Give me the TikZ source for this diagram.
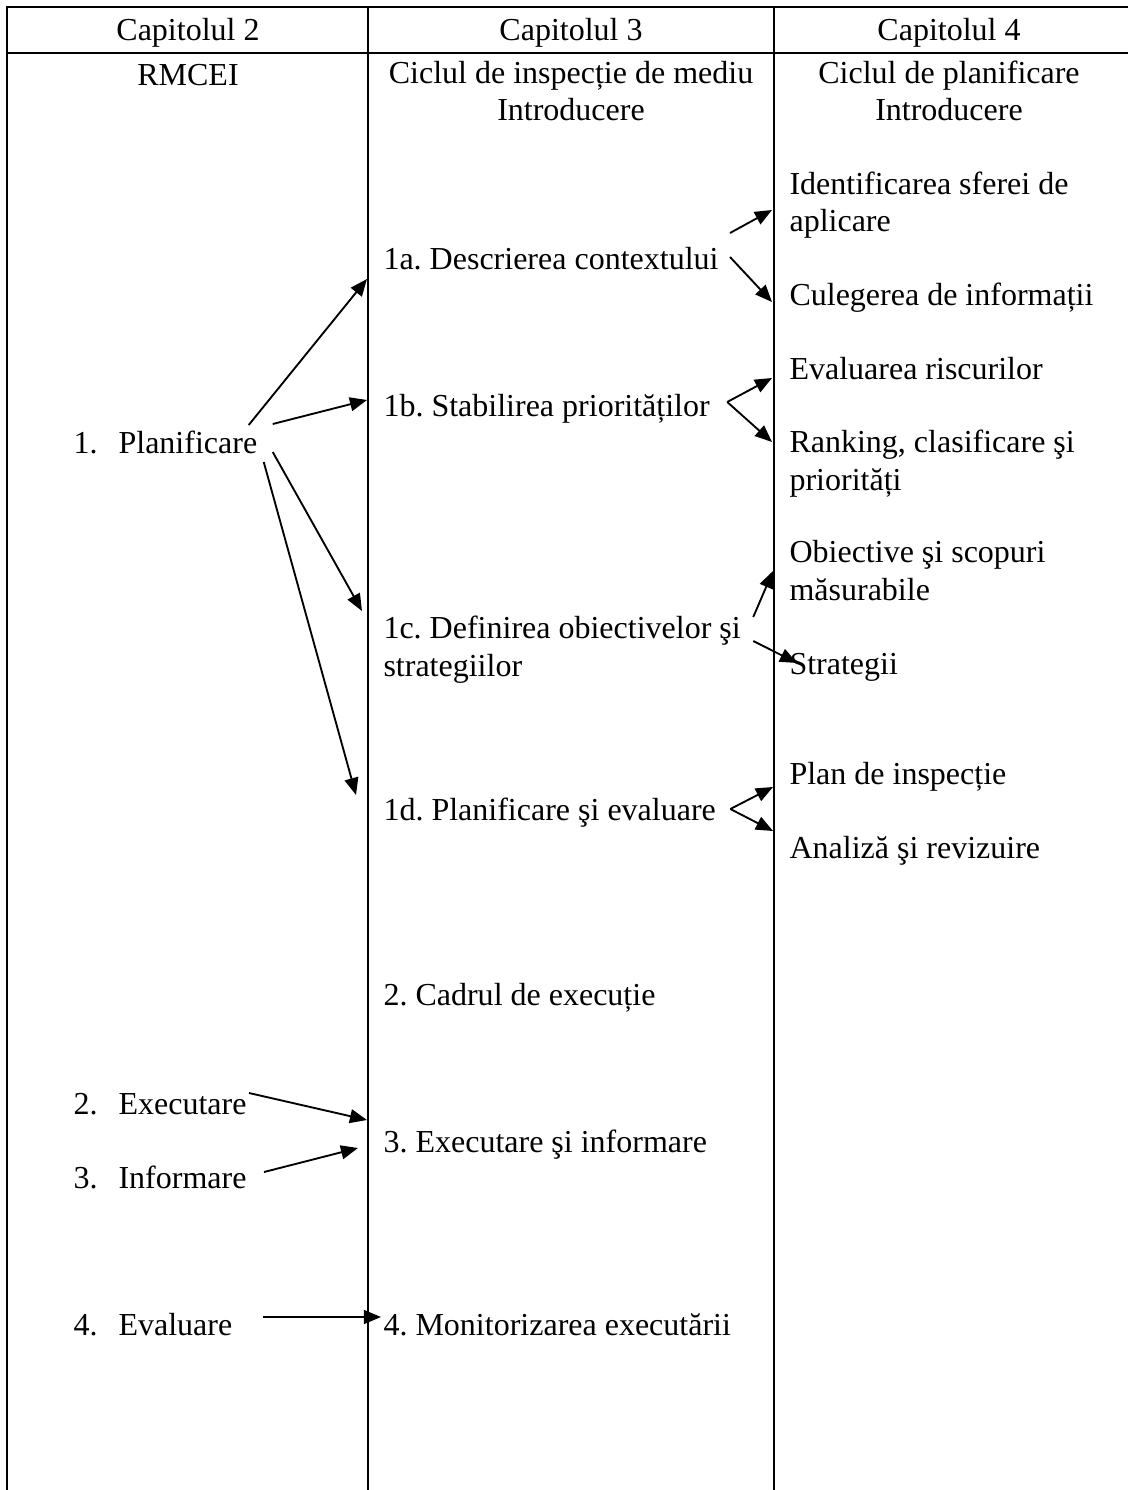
\documentclass[tikz,border=0pt]{standalone}
\usepackage{fontspec}
\setmainfont{Liberation Serif}
\usetikzlibrary{arrows.meta}

\newcommand{\listnr}[1]{\makebox[16.9pt][l]{#1}}
\frenchspacing

\begin{document}
\begin{tikzpicture}[
    x=0.375pt, y=-0.375pt,
    font=\fontsize{12}{13.9}\selectfont,
    rule/.style={line width=0.8pt},
    arrow/.style={line width=0.7pt,-{Triangle[length=6.4pt,width=5.2pt]}},
    head/.style={anchor=base, align=center, inner sep=0pt},
    item/.style={anchor=base west, align=left, inner sep=0pt}
  ]

  \path[use as bounding box] (0,0) rectangle (1128,1490);

  % Table frame
  \draw[rule] (1128,7) -- (7,7) -- (7,1490);
  \draw[rule] (7,53) -- (1128,53);
  \draw[rule] (368,7) -- (368,1490);
  \draw[rule] (774,7) -- (774,1490);

  % Header (multi-line nodes sit on their last line)
  \node[head] (cap2) at (188,41) {Capitolul 2};
  \node[head] (cap3) at (571,41) {Capitolul 3};
  \node[head] (cap4) at (949,41) {Capitolul 4};
  \node[head] (rmcei) at (188,86) {RMCEI};
  \node[head] (ciclu) at (571,121) {Ciclul de inspecție de mediu\\Introducere};
  \node[head] (cplan) at (949,121) {Ciclul de planificare\\Introducere};

  % Capitolul 2
  \node[item] (plan) at (73,453) {\listnr{1.}Planificare};
  \node[item] (exe) at (73,1114) {\listnr{2.}Executare};
  \node[item] (inf) at (73,1188) {\listnr{3.}Informare};
  \node[item] (eva) at (73,1335) {\listnr{4.}Evaluare};

  % Capitolul 3
  \node[item] (ctx) at (383,270) {1a. Descrierea contextului};
  \node[item] (prio) at (383,417) {1b. Stabilirea priorităților};
  \node[item] (obj) at (383,676) {1c. Definirea obiectivelor şi\\strategiilor};
  \node[item] (peval) at (383,820) {1d. Planificare şi evaluare};
  \node[item] (cadru) at (383,1005) {2. Cadrul de execuție};
  \node[item] (exinf) at (383,1152) {3. Executare şi informare};
  \node[item] (monit) at (383,1335) {4. Monitorizarea executării};

  % Capitolul 4
  \node[item] (sfera) at (789,232) {Identificarea sferei de\\aplicare};
  \node[item] (info) at (789,306) {Culegerea de informații};
  \node[item] (risc) at (789,380) {Evaluarea riscurilor};
  \node[item] (rank) at (789,490) {Ranking, clasificare şi\\priorități};
  \node[item] (scop) at (789,600) {Obiective şi scopuri\\măsurabile};
  \node[item] (strat) at (789,674) {Strategii};
  \node[item] (insp) at (789,784) {Plan de inspecție};
  \node[item] (rev) at (789,858) {Analiză şi revizuire};

  % Planificare -> 1a..1d
  \draw[arrow] ([shift={(-9,-28)}]plan.base east) -- ([shift={(-16,9)}]ctx.base west);
  \draw[arrow] ([shift={(15,-29)}]plan.base east) -- ([shift={(-16,-17)}]prio.base west);
  \draw[arrow] ([shift={(15,-1)}]plan.base east) -- ([shift={(-21,-65)}]obj.base west);
  \draw[arrow] ([shift={(6,9)}]plan.base east) -- ([shift={(-27,-25)}]peval.base west);

  % 1a..1d -> ciclul de planificare
  \draw[arrow] ([shift={(11,-37)}]ctx.base east) -- ([shift={(-17,-22)}]sfera.base west);
  \draw[arrow] ([shift={(11,-13)}]ctx.base east) -- ([shift={(-17,-4)}]info.base west);
  \draw[arrow] ([shift={(17,-15)}]prio.base east) -- ([shift={(-17,-2)}]risc.base west);
  \draw[arrow] ([shift={(17,-15)}]prio.base east) -- ([shift={(-17,-48)}]rank.base west);
  \draw[arrow] ([shift={(12,-59)}]obj.base east) -- ([shift={(-16,-29)}]scop.base west);
  \draw[arrow] ([shift={(12,-35)}]obj.base east) -- ([shift={(8,-11)}]strat.base west);
  \draw[arrow] ([shift={(14,-11)}]peval.base east) -- ([shift={(-16,3)}]insp.base west);
  \draw[arrow] ([shift={(14,-11)}]peval.base east) -- ([shift={(-16,-27)}]rev.base west);

  % Executare, Informare, Evaluare
  \draw[arrow] ([shift={(2,-21)}]exe.base east) -- ([shift={(-16,-32)}]exinf.base west);
  \draw[arrow] ([shift={(17,-16)}]inf.base east) -- ([shift={(-25,-4)}]exinf.base west);
  \draw[arrow] ([shift={(30,-18)}]eva.base east) -- ([shift={(-2,-18)}]monit.base west);

\end{tikzpicture}
\end{document}
